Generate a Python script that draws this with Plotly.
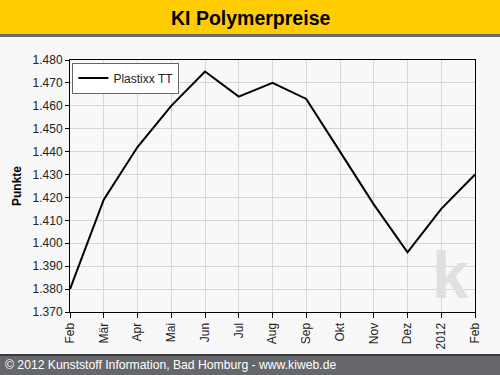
import plotly.graph_objects as go

months = ["Feb", "Mär", "Apr", "Mai", "Jun", "Jul", "Aug", "Sep", "Okt", "Nov", "Dez", "2012", "Feb"]
values = [1380, 1419, 1442, 1460, 1475, 1464, 1470, 1463, 1440, 1417, 1396, 1415, 1430]
series_name = "Plastixx TT"
yticks = [1370, 1380, 1390, 1400, 1410, 1420, 1430, 1440, 1450, 1460, 1470, 1480]

W, H = 500, 375
L, R, T, B = 70, 25, 60, 63
pw, ph = W - L - R, H - T - B

def px(x):
    return (x - L) / pw

def py(y):
    return (H - B - y) / ph

FONT = "Arial, Liberation Sans, sans-serif"
xs = list(range(len(months)))

fig = go.Figure()
fig.add_trace(go.Scatter(x=xs, y=values, mode="lines", name=series_name,
                         line=dict(color="black", width=2), hoverinfo="skip"))

shapes = [
    # title bar
    dict(type="rect", xref="paper", yref="paper", x0=px(0), x1=px(W), y0=py(35), y1=py(0),
         fillcolor="#FFCC00", line=dict(width=0), layer="above"),
    dict(type="rect", xref="paper", yref="paper", x0=px(0), x1=px(W), y0=py(37), y1=py(34),
         fillcolor="#6b6b6b", line=dict(width=0), layer="above"),
    # footer bar
    dict(type="rect", xref="paper", yref="paper", x0=px(0), x1=px(W), y0=py(H), y1=py(354),
         fillcolor="#66676b", line=dict(width=0), layer="above"),
    dict(type="rect", xref="paper", yref="paper", x0=px(0), x1=px(W), y0=py(356), y1=py(354),
         fillcolor="#3c3c3c", line=dict(width=0), layer="above"),
]

annotations = [
    dict(text="<b>KI Polymerpreise</b>", xref="paper", yref="paper", x=px(250), y=py(18),
         xanchor="center", yanchor="middle", showarrow=False,
         font=dict(family=FONT, size=19.5, color="black")),
    dict(text="© 2012 Kunststoff Information, Bad Homburg - www.kiweb.de", xref="paper", yref="paper",
         x=px(3), y=py(365), xanchor="left", yanchor="middle", showarrow=False,
         font=dict(family=FONT, size=12.2, color="white")),
    dict(text="<b>k</b>", xref="paper", yref="paper", x=px(450), y=py(314),
         xanchor="center", yanchor="bottom", showarrow=False,
         font=dict(family=FONT, size=66, color="#e0e0e0")),
]

fig.update_layout(
    width=W, height=H,
    margin=dict(l=L, r=R, t=T, b=B),
    paper_bgcolor="#f8f8f8",
    plot_bgcolor="#f8f8f8",
    separators=",.",
    hovermode=False,
    font=dict(family=FONT, size=12, color="#222"),
    showlegend=True,
    legend=dict(x=0.006, y=0.99, xanchor="left", yanchor="top",
                bgcolor="white", bordercolor="#666", borderwidth=1,
                font=dict(family=FONT, size=12, color="#222"),
                tracegroupgap=0, itemwidth=30),
    shapes=shapes,
    annotations=annotations,
    xaxis=dict(range=[0, len(months) - 1], tickmode="array", tickvals=xs, ticktext=months,
               tickangle=-90, showgrid=True, gridcolor="#d6d6de", gridwidth=1,
               showline=True, linecolor="black", linewidth=1, mirror=True,
               ticks="outside", ticklen=5, tickcolor="black", zeroline=False,
               tickfont=dict(family=FONT, size=12, color="#222")),
    yaxis=dict(range=[1370, 1480], tickmode="array", tickvals=yticks, tickformat=",d",
               showgrid=True, gridcolor="#d6d6de", gridwidth=1,
               showline=True, linecolor="black", linewidth=1, mirror=True,
               ticks="outside", ticklen=4, tickcolor="black", zeroline=False,
               tickfont=dict(family=FONT, size=12, color="#222"),
               title=dict(text="<b>Punkte</b>", standoff=8,
                          font=dict(family=FONT, size=12, color="black"))),
)

fig.write_html("out.html", config={"displayModeBar": False, "staticPlot": True},
               post_script="document.body.style.margin='0';document.body.style.overflow='hidden';")
